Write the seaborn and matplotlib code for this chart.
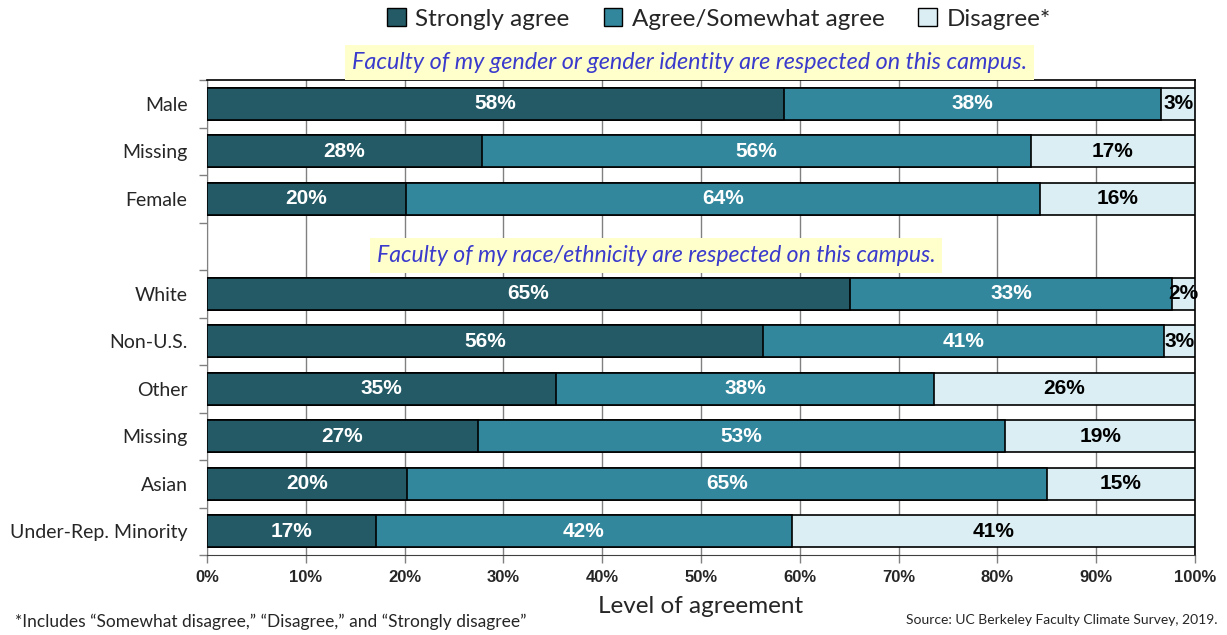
import matplotlib
matplotlib.use("Agg")
import matplotlib.pyplot as plt
import seaborn as sns
import pandas as pd
from matplotlib.patches import Patch
from matplotlib.ticker import FixedLocator

# ---- data ----
categories = ["Male", "Missing", "Female",
              "White", "Non-U.S.", "Other", "Missing", "Asian", "Under-Rep. Minority"]
keys = ["g_male", "g_missing", "g_female",
        "r_white", "r_nonus", "r_other", "r_missing", "r_asian", "r_urm"]
strongly_agree = [58.4, 27.8, 20.1, 65.1, 56.3, 35.3, 27.4, 20.2, 17.1]
agree = [38.2, 55.6, 64.2, 32.6, 40.6, 38.3, 53.4, 64.8, 42.1]
disagree = [3.4, 16.6, 15.7, 2.3, 3.1, 26.4, 19.2, 15.0, 40.8]
series_names = ["Strongly agree", "Agree/Somewhat agree", "Disagree*"]
x_ticks = [0, 10, 20, 30, 40, 50, 60, 70, 80, 90, 100]
title_gender = "Faculty of my gender or gender identity are respected on this campus."
title_race = "Faculty of my race/ethnicity are respected on this campus."

order = keys[:3] + ["gap"] + keys[3:]
tick_names = categories[:3] + [""] + categories[3:]

c_dark = "#235a66"
c_mid = "#32879c"
c_light = "#dbeef3"

df = pd.DataFrame({"key": keys, "sa": strongly_agree, "ag": agree, "dis": disagree})
df["cum2"] = df["sa"] + df["ag"]
df["cum3"] = df["cum2"] + df["dis"]

sns.set_style("white")
plt.rcParams["font.family"] = ["Lato", "DejaVu Sans"]

fig = plt.figure(figsize=(12.27, 6.35), dpi=100)
ax = fig.add_axes([207 / 1227, 1 - 555 / 635, 988 / 1227, 475 / 635])

common = dict(y="key", order=order, orient="h", saturation=1, errorbar=None,
              edgecolor="black", linewidth=1.2, width=0.67, ax=ax, zorder=3)
sns.barplot(data=df, x="cum3", color=c_light, **common)
sns.barplot(data=df, x="cum2", color=c_mid, **common)
sns.barplot(data=df, x="sa", color=c_dark, **common)

# segment labels
pos = {k: order.index(k) for k in keys}
arial_b = dict(family=["Liberation Sans", "DejaVu Sans"], fontweight="bold", fontsize=15)
for _, r in df.iterrows():
    y = pos[r["key"]]
    ax.text(r["sa"] / 2, y, f"{round(r['sa'])}%", ha="center", va="center",
            color="white", zorder=5, **arial_b)
    ax.text(r["sa"] + r["ag"] / 2, y, f"{round(r['ag'])}%", ha="center", va="center",
            color="white", zorder=5, **arial_b)
    ax.text(r["cum2"] + r["dis"] / 2, y, f"{round(r['dis'])}%", ha="center", va="center",
            color="black", zorder=5, clip_on=False, **arial_b)

ax.set_xlim(0, 100)
ax.set_ylim(len(order) - 0.5, -0.5)
ax.set_xticks(x_ticks)
ax.set_xticklabels([f"{t}%" for t in x_ticks], family=["Liberation Sans", "DejaVu Sans"],
                   fontweight="bold", fontsize=12)
ax.set_yticks(range(len(order)))
ax.set_yticklabels(tick_names, fontsize=14)
ax.yaxis.set_minor_locator(FixedLocator([i - 0.5 for i in range(len(order) + 1)]))
ax.tick_params(axis="y", which="major", length=0, pad=14)
ax.tick_params(axis="y", which="minor", length=6, color="#808080", width=1, direction="out", left=True)
ax.tick_params(axis="x", which="major", length=6, color="#808080", width=1, direction="out",
               bottom=True, pad=5)
ax.set_ylabel("")
ax.set_xlabel("Level of agreement", fontsize=17.5, labelpad=8)

ax.grid(axis="x", color="#808080", linewidth=1, zorder=0)
ax.set_axisbelow(True)
for s in ["top", "right"]:
    ax.spines[s].set_color("black")
    ax.spines[s].set_linewidth(1.2)
ax.spines["left"].set_color("#808080")
ax.spines["bottom"].set_color("#404040")

# section titles
ax.text(14.7, -0.86, title_gender, ha="left", va="center", fontsize=16.8, style="italic",
        color="#3a3acc", clip_on=False, zorder=6,
        bbox=dict(boxstyle="square,pad=0.3", facecolor="#ffffcc", edgecolor="none"))
ax.text(17.2, 3.2, title_race, ha="left", va="center", fontsize=16.6, style="italic",
        color="#3a3acc", zorder=6,
        bbox=dict(boxstyle="square,pad=0.3", facecolor="#ffffcc", edgecolor="none"))

handles = [Patch(facecolor=c, edgecolor="black", linewidth=1) for c in (c_dark, c_mid, c_light)]
fig.legend(handles, series_names, loc="center", bbox_to_anchor=(0.586, 0.970), ncol=3,
           frameon=False, fontsize=17.5, handlelength=0.75, handleheight=0.75,
           handletextpad=0.4, columnspacing=1.4)

fig.text(15 / 1227, 1 - 622 / 635, "*Includes \u201cSomewhat disagree,\u201d \u201cDisagree,\u201d and \u201cStrongly disagree\u201d",
         ha="left", va="center", fontsize=12.5)
fig.text(1217 / 1227, 1 - 620 / 635, "Source: UC Berkeley Faculty Climate Survey, 2019.",
         ha="right", va="center", fontsize=10)

fig.savefig("out.png", dpi=100)
